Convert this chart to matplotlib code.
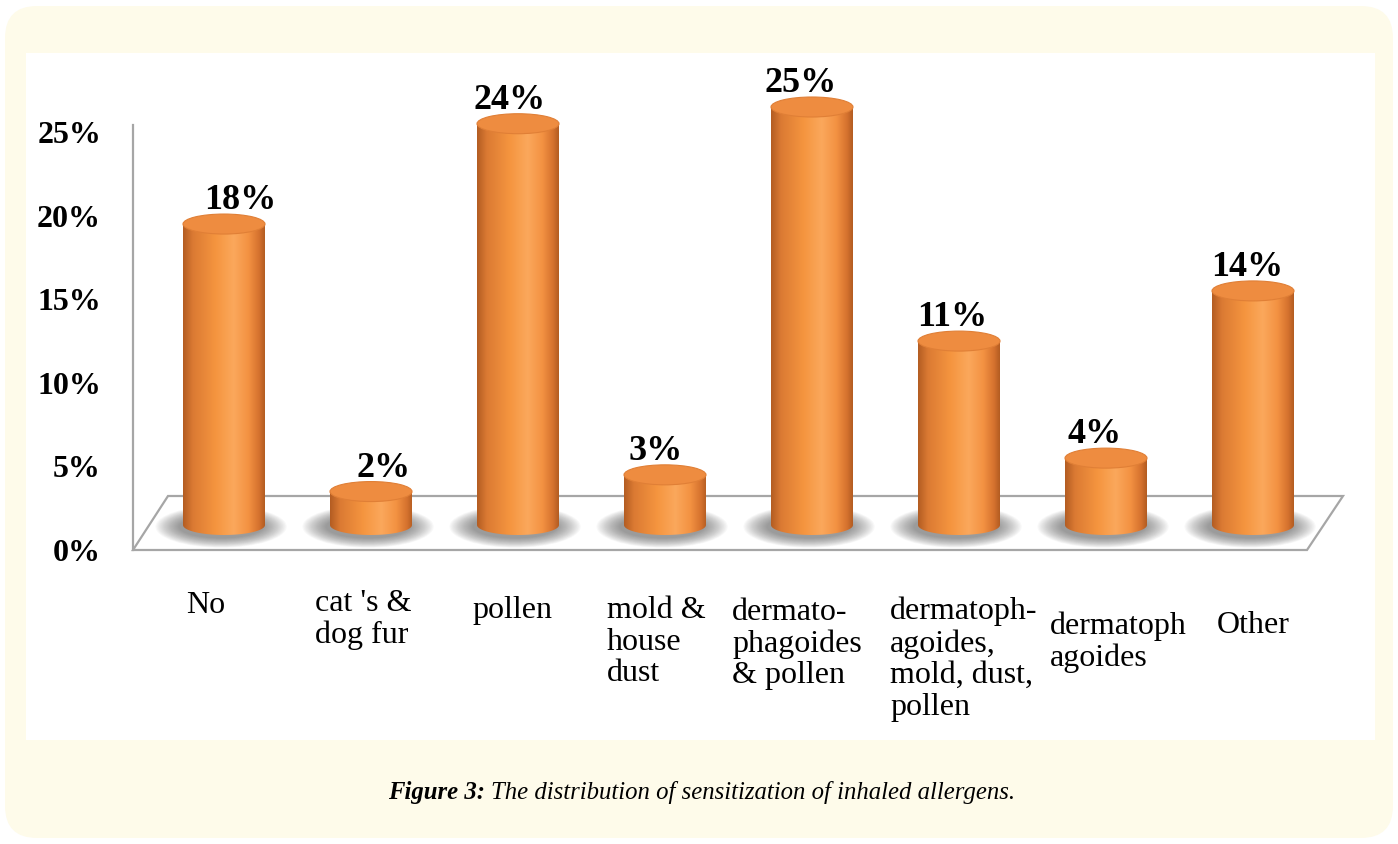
import numpy as np
import matplotlib.pyplot as plt
from matplotlib.patches import Ellipse, PathPatch, Polygon, FancyBboxPatch, Rectangle
from matplotlib.path import Path
from matplotlib.colors import LinearSegmentedColormap
from matplotlib.transforms import IdentityTransform

# data
categories = ["No", "cat 's &\ndog fur", "pollen", "mold &\nhouse\ndust",
              "dermato-\nphagoides\n& pollen", "dermatoph-\nagoides,\nmold, dust,\npollen",
              "dermatoph\nagoides", "Other"]
values = [18, 2, 24, 3, 25, 11, 4, 14]
yticks = [0, 5, 10, 15, 20, 25]
caption_bold = "Figure 3:"
caption_rest = "The distribution of sensitization of inhaled allergens."

# fonts / colours
serif = ["Liberation Serif", "DejaVu Serif"]
cream = "#FEFBEA"
top_col = "#EE8C40"
body_cmap = LinearSegmentedColormap.from_list(
    "cyl", [(0, "#B35C22"), (0.12, "#DB7A33"), (0.4, "#F5953F"),
            (0.62, "#FBA85C"), (0.8, "#F39242"), (0.93, "#D5722E"), (1, "#B35C22")])

W, H = 1398, 844
fig = plt.figure(figsize=(W / 100, H / 100), dpi=100)
fig.patch.set_facecolor("white")

# cream rounded panel + white inner area (behind the axes)
fig.patches.append(FancyBboxPatch((5, 6), 1388, 832, boxstyle="round,pad=0,rounding_size=32",
                                  transform=IdentityTransform(), facecolor=cream,
                                  edgecolor="none", zorder=-2))
fig.patches.append(Rectangle((26, H - 740), 1349, 687, transform=IdentityTransform(),
                             facecolor="white", edgecolor="none", zorder=-1))

# chart axes (left spine at px 133, 0% at py 550, 16.72 px per %)
px_per_pct = 16.72
px_per_cat = 147.0
x_first = 224.0
left_px, right_px, bot_py, top_py = 133, 1375, 550, 60
ax = fig.add_axes([left_px / W, (H - bot_py) / H, (right_px - left_px) / W, (bot_py - top_py) / H])
ax.set_facecolor("none")
xlim = ((left_px - x_first) / px_per_cat, (right_px - x_first) / px_per_cat)
ylim = (0, (bot_py - top_py) / px_per_pct)
wall_top = (bot_py - 125) / px_per_pct

# 3D floor
depth = (550 - 496) / px_per_pct
floor = Polygon([((133 - x_first) / px_per_cat, 0), ((1307 - x_first) / px_per_cat, 0),
                 ((1343 - x_first) / px_per_cat, depth), ((168 - x_first) / px_per_cat, depth)],
                closed=True, facecolor="white", edgecolor="#A6A6A6", lw=1.6, zorder=1,
                clip_on=False)
ax.add_patch(floor)

base = (550 - 525) / px_per_pct
bw = 82 / px_per_cat
eh = 20 / px_per_pct
grad = np.linspace(0, 1, 256).reshape(1, -1)
value_dx = [16, 13, -8, -9, -11, -7, -11, -6]

for i, v in enumerate(values):
    top = base + v
    # soft shadow on the floor
    n = 20
    for k in range(n):
        s = 1 - k / n
        ax.add_patch(Ellipse((i - 0.02, base - 0.1), bw * (1.0 + 0.6 * s), eh * (1.1 + 1.0 * s),
                             facecolor="#4a4a4a", edgecolor="none", alpha=0.035, zorder=2))
    # cylinder body
    t = np.linspace(np.pi, 2 * np.pi, 60)
    xs = list(i + bw / 2 * np.cos(t)) + [i + bw / 2, i - bw / 2]
    ys = list(base + eh / 2 * np.sin(t)) + [top, top]
    body = PathPatch(Path(np.column_stack([xs, ys]), closed=False), facecolor="none",
                     edgecolor="none", transform=ax.transData)
    ax.add_patch(body)
    im = ax.imshow(grad, cmap=body_cmap, extent=[i - bw / 2, i + bw / 2, base - eh, top],
                   aspect="auto", zorder=3, interpolation="bicubic")
    im.set_clip_path(body)
    ax.add_patch(Ellipse((i, top), bw, eh, facecolor=top_col, edgecolor="#E07F36",
                         lw=0.8, zorder=4))
    ax.text(i + value_dx[i] / px_per_cat, top + eh / 2 - 0.2, f"{v}%", ha="center",
            va="bottom", fontsize=26, fontweight="bold", family=serif, zorder=5)

# category labels
label_dx = [-18, -8, -6, -9, -15, 5, 12, 0]
label_top = [-2.45, -2.35, -2.75, -2.75, -2.85, -2.8, -3.65, -3.65]
for i, lab in enumerate(categories):
    ax.text(i + label_dx[i] / px_per_cat, label_top[i], lab, ha="center", va="top",
            multialignment="left", fontsize=23, family=serif, clip_on=False,
            linespacing=1.12)

ax.set_xlim(*xlim)
ax.set_ylim(*ylim)
ax.set_xticks([])
ax.set_yticks(yticks)
ax.set_yticklabels([f"{t}%" for t in yticks], fontsize=23, fontweight="bold", family=serif)
ax.tick_params(axis="y", length=0, pad=23)
for side in ["top", "right", "bottom"]:
    ax.spines[side].set_visible(False)
ax.spines["left"].set_color("#A6A6A6")
ax.spines["left"].set_linewidth(1.6)
ax.spines["left"].set_bounds(0, wall_top)

# caption
t1 = fig.text(388 / W, (H - 804) / H, caption_bold, fontsize=17.8, fontweight="bold",
              style="italic", family=serif, ha="left", va="bottom")
ax.annotate(caption_rest, xy=(1, 0), xycoords=t1, xytext=(4, 0), textcoords="offset points",
            ha="left", va="bottom", fontsize=17.8, style="italic", family=serif,
            annotation_clip=False)

fig.savefig("out.png", dpi=100)
